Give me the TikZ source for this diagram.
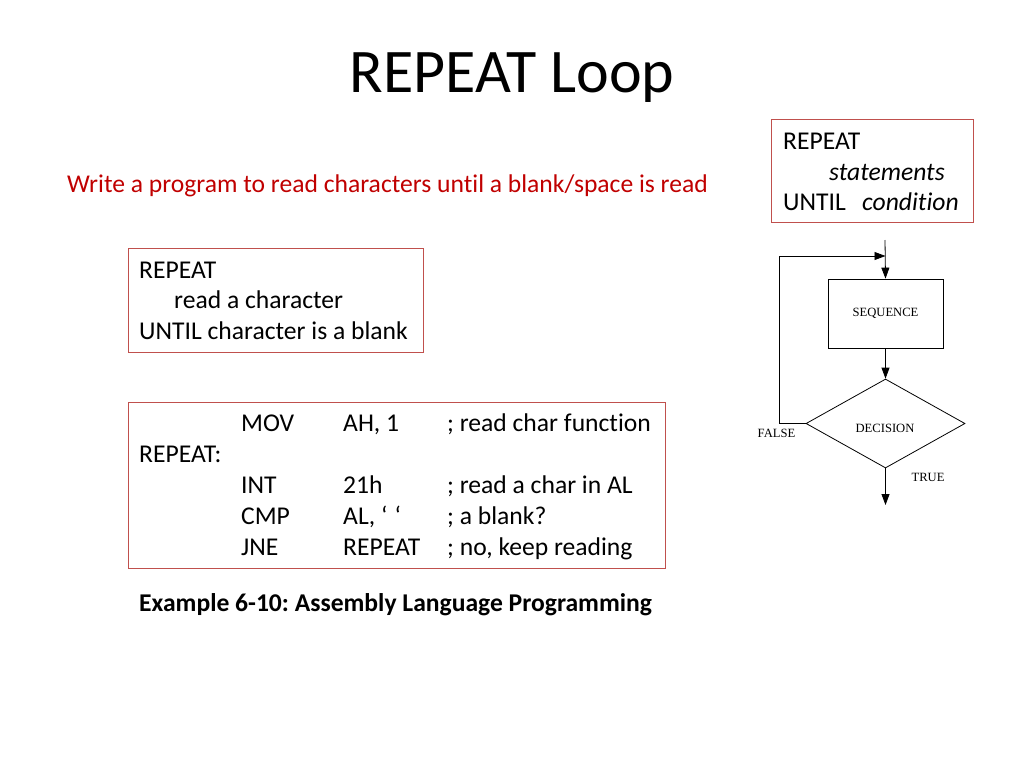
\documentclass[tikz,border=0pt]{standalone}
\usepackage{fontspec}
\setmainfont{Carlito}[Ligatures=NoCommon]
\newfontfamily\fcfont{Liberation Serif}
\usetikzlibrary{arrows.meta,shapes.geometric}
\definecolor{boxred}{RGB}{192,80,77}
\definecolor{txtred}{RGB}{192,0,0}
\frenchspacing
\begin{document}
\begin{tikzpicture}[x=1pt,y=-1pt,
  body/.style={font=\fontsize{25.6}{30}\selectfont, inner sep=0pt, anchor=base west},
  redbox/.style={draw=boxred, line width=1pt, inner sep=0pt},
  fc/.style={font=\fcfont\fontsize{12.6}{14}\selectfont, inner sep=0pt},
  fl/.style={line width=0.8pt},
  arr/.style={-{Triangle[length=11pt,width=8pt]}}]
\useasboundingbox (0,0) rectangle (1024,768);

% title
\node[font=\fontsize{62}{70}\selectfont, inner sep=0pt, anchor=base] (title) at (512,92) {REPEAT Loop};

% problem statement
\node[body, text=txtred] (task) at (67,192) {Write a program to read characters until a blank/space is read};

% syntax box
\node[redbox, minimum width=202pt, minimum height=103pt] (syn) at (872,170.5) {};
\node[body] (s1) at (783,149) {REPEAT};
\node[body] (s2) at (829,180) {\itshape statements};
\node[body] (s3) at (783,210) {UNTIL};
\node[body] (s4) at (862,210) {\itshape condition};

% pseudocode box
\node[redbox, minimum width=295pt, minimum height=104pt] (pseudo) at (275.5,300) {};
\node[body] (p1) at (139,278) {REPEAT};
\node[body] (p2) at (174,308) {read a character};
\node[body] (p3) at (139,339) {UNTIL character is a blank};

% assembly box
\node[redbox, minimum width=537pt, minimum height=166pt] (asm) at (396.5,485) {};
\node[body] (a1) at (241,431) {MOV};
\node[body] (a2) at (343,431) {AH, 1};
\node[body] (a3) at (447,431) {; read char function};
\node[body] (a4) at (139,462) {REPEAT:};
\node[body] (a5) at (241,493) {INT};
\node[body] (a6) at (343,493) {21h};
\node[body] (a7) at (447,493) {; read a char in AL};
\node[body] (a8) at (241,524) {CMP};
\node[body] (a9) at (343,524) {AL, ‘\hspace{7pt}‘};
\node[body] (a10) at (447,524) {; a blank?};
\node[body] (a11) at (241,555) {JNE};
\node[body] (a12) at (343,555) {REPEAT};
\node[body] (a13) at (447,555) {; no, keep reading};

% caption
\node[body, font=\fontsize{25.6}{30}\selectfont\bfseries] (cap) at (139,611) {Example 6-10: Assembly Language Programming};

% flowchart
\coordinate (top) at (885,240);
\node[draw, fl, minimum width=115pt, minimum height=69pt, fc] (seq) at (885.5,313.5) {SEQUENCE};
\node[draw, fl, diamond, minimum width=159pt, minimum height=89pt, inner sep=0pt] (dec) at (885.5,423.5) {};
\node[fc] (dectxt) at (885,428) {DECISION};
\coordinate (bot) at (885.5,505);
\coordinate (loopc) at (779,423.5);
\coordinate (join) at (885.5,256);
\draw[fl,arr] (top) -- (seq.north);
\draw[fl,arr] (seq.south) -- (dec.north);
\draw[fl,arr] (dec.south) -- (bot);
\draw[fl,arr] (dec.west) -- (loopc) |- (join);
\node[fc] (false) at (776.5,433.5) {FALSE};
\node[fc] (true) at (928,477.5) {TRUE};
\end{tikzpicture}
\end{document}
